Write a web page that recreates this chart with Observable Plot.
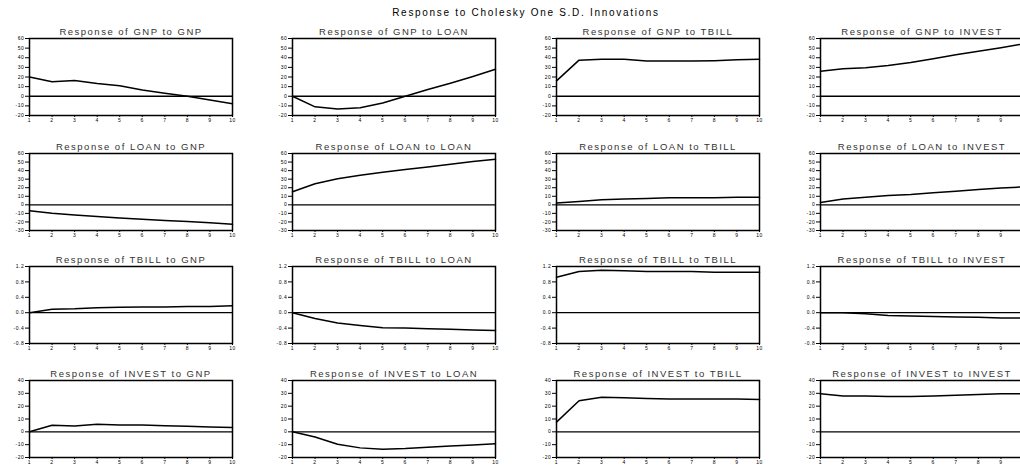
<!DOCTYPE html>
<html><head><meta charset="utf-8">
<script src="https://cdn.jsdelivr.net/npm/d3@7"></script>
<script src="https://cdn.jsdelivr.net/npm/@observablehq/plot@0.6"></script>
<style>
body{margin:0;background:#fff;font-family:"Liberation Sans",Arial,sans-serif;}
#root{position:relative;width:1020px;height:466px;overflow:hidden;background:#fff;}
#title{position:absolute;top:7px;left:0;width:1052px;text-align:center;font-size:10px;letter-spacing:1.7px;color:#000;line-height:12px;}
.panel{position:absolute;}
</style></head><body>
<div id="root"><div id="title">Response to Cholesky One S.D. Innovations</div></div>
<script>
// ---- data ----
const variables = ["GNP", "LOAN", "TBILL", "INVEST"];
const horizon = [1, 2, 3, 4, 5, 6, 7, 8, 9, 10];

// response of row variable to shock in column variable
const gnpToGnp     = [20, 15, 16.4, 13.3, 11, 6.5, 3, 0, -4, -7.8];
const gnpToLoan    = [0, -11, -13.3, -12, -7, 0, 7, 13.5, 20.5, 28];
const gnpToTbill   = [16, 37.5, 38.5, 38.5, 36.5, 36.5, 36.5, 37, 38, 38.5];
const gnpToInvest  = [26, 28.6, 29.7, 32, 35, 39, 43, 46.7, 50.5, 54.5];

const loanToGnp    = [-7, -9.8, -12, -13.7, -15.3, -16.9, -18.4, -19.6, -20.8, -22.7];
const loanToLoan   = [15.3, 24.7, 30.6, 34.5, 38, 41.2, 44.3, 47.5, 50.6, 53.3];
const loanToTbill  = [2, 4, 6, 6.7, 7.5, 8.2, 8.2, 8.2, 9, 9];
const loanToInvest = [2.7, 6.7, 9, 11, 12.2, 14, 16, 18, 19.6, 21];

const tbillToGnp    = [0, 0.09, 0.1, 0.13, 0.14, 0.15, 0.15, 0.16, 0.16, 0.18];
const tbillToLoan   = [0, -0.15, -0.27, -0.33, -0.39, -0.4, -0.42, -0.43, -0.45, -0.46];
const tbillToTbill  = [0.92, 1.07, 1.1, 1.09, 1.07, 1.07, 1.07, 1.05, 1.05, 1.05];
const tbillToInvest = [0, 0, -0.03, -0.07, -0.085, -0.1, -0.11, -0.12, -0.14, -0.14];

const investToGnp    = [0, 5.1, 4.6, 5.9, 5.3, 5.3, 4.8, 4.3, 3.8, 3.3];
const investToLoan   = [0, -4, -9.7, -12.5, -13.5, -13, -12, -11, -10.2, -9.2];
const investToTbill  = [7.6, 24.2, 27, 26.5, 26, 25.5, 25.5, 25.5, 25.5, 25.2];
const investToInvest = [29.6, 28, 28, 27.5, 27.5, 28, 28.5, 29, 29.6, 29.6];

const responses = [
  [gnpToGnp, gnpToLoan, gnpToTbill, gnpToInvest],
  [loanToGnp, loanToLoan, loanToTbill, loanToInvest],
  [tbillToGnp, tbillToLoan, tbillToTbill, tbillToInvest],
  [investToGnp, investToLoan, investToTbill, investToInvest]
];

// y tick values per responding variable (row)
const gnpTicks    = [-20, -10, 0, 10, 20, 30, 40, 50, 60];
const loanTicks   = [-30, -20, -10, 0, 10, 20, 30, 40, 50, 60];
const tbillTicks  = [-0.8, -0.4, 0.0, 0.4, 0.8, 1.2];
const investTicks = [-20, -10, 0, 10, 20, 30, 40];
const rowTicks = [gnpTicks, loanTicks, tbillTicks, investTicks];
const rowDecimals = [0, 0, 1, 0];

// ---- layout ----
const colLeft = [29, 292, 556, 820];
const rowTop = [38, 153, 266, 380];
const frameW = 203, frameH = 77;
const mL = 29, mT = 20, mB = 10, mR = 12;

const root = document.getElementById("root");

for (let r = 0; r < 4; r++) {
  for (let c = 0; c < 4; c++) {
    const vals = responses[r][c];
    const data = horizon.map((h, i) => ({h, v: vals[i]}));
    const ticks = rowTicks[r];
    const dec = rowDecimals[r];
    const fmt = d => d.toFixed(dec);
    const title = `Response of ${variables[r]} to ${variables[c]}`;
    const svg = Plot.plot({
      width: mL + frameW + mR,
      height: mT + frameH + mB,
      marginLeft: mL, marginRight: mR, marginTop: mT, marginBottom: mB,
      style: {fontFamily: '"Liberation Sans", Arial, sans-serif', background: "transparent", color: "#000", overflow: "visible"},
      x: {domain: [1, 10], label: null},
      y: {domain: [d3.min(ticks), d3.max(ticks)], label: null},
      marks: [
        Plot.ruleY([0], {stroke: "#000", strokeWidth: 1.3}),
        Plot.line(data, {x: "h", y: "v", stroke: "#000", strokeWidth: 1.5}),
        Plot.frame({stroke: "#000", strokeWidth: 1.5}),
        Plot.axisY({ticks, tickFormat: fmt, tickSize: 4, tickPadding: 1, fontSize: 5, label: null}),
        Plot.axisX({ticks: horizon, tickFormat: d => String(d), tickSize: 2, tickPadding: 1, fontSize: 5, label: null}),
        Plot.text([title], {frameAnchor: "top", dy: -10, fontSize: 9.5, fill: "#333"})
      ]
    });
    d3.select(svg).selectAll("text").attr("letter-spacing", function() {
      return this.textContent.startsWith("Response") ? "1.5px" : "0.6px";
    });
    svg.classList.add("panel");
    svg.style.position = "absolute";
    svg.style.left = (colLeft[c] - mL) + "px";
    svg.style.top = (rowTop[r] - mT) + "px";
    root.appendChild(svg);
  }
}
</script>
</body></html>
